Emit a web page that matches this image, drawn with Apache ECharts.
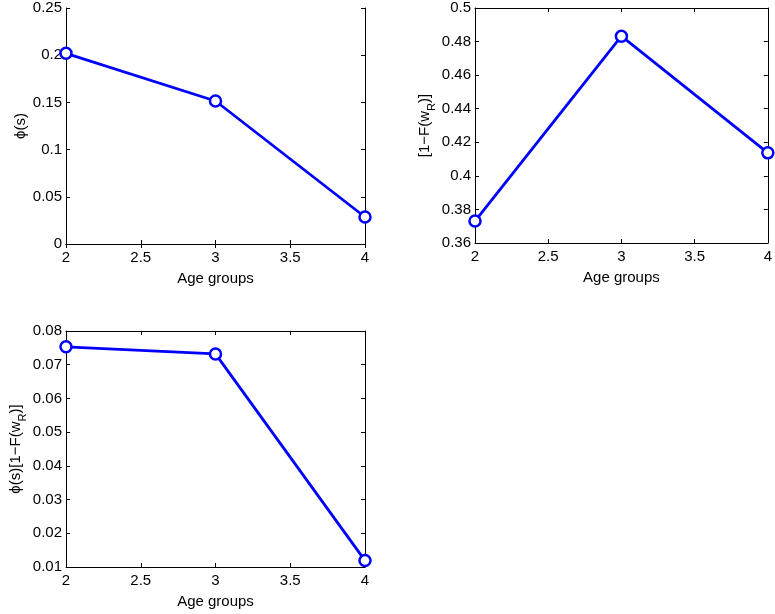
<!DOCTYPE html>
<html>
<head>
<meta charset="utf-8">
<script src="https://cdn.jsdelivr.net/npm/echarts@6/dist/echarts.min.js"></script>
<style>
  html, body { margin: 0; padding: 0; background: #fff; }
  #chart { width: 775px; height: 614px; }
</style>
</head>
<body>
<div id="chart"></div>
<script>
// age groups on the x axis
const ageGroups = [2, 3, 4];
// phi(s)
const phiValues = [0.202, 0.1515, 0.0286];
// [1 - F(w_R)]
const survivalValues = [0.3731, 0.4832, 0.4137];
// phi(s)[1 - F(w_R)]
const productValues = [0.0753, 0.0732, 0.0119];

const xTicks = [2, 2.5, 3, 3.5, 4];

const fontFamily = 'Liberation Sans, Arial, sans-serif';
const blue = '#0000ff';

const grids = [
	{ left: 66, top: 8, width: 299, height: 236 },
	{ left: 475, top: 8, width: 298, height: 235 },
	{ left: 66, top: 331, width: 299, height: 236 },
];

const yRanges = [
	{ min: 0, max: 0.25, interval: 0.05 },
	{ min: 0.36, max: 0.5, interval: 0.02 },
	{ min: 0.01, max: 0.08, interval: 0.01 },
];

const yNames = [
	'ϕ(s)',
	'[1−F(w{sub|R})]',
	'ϕ(s)[1−F(w{sub|R})]',
];

const fmt = (v) => String(parseFloat(v.toFixed(4)));

const nameRich = {
	sub: { fontSize: 11, fontFamily: fontFamily, color: '#000', verticalAlign: 'bottom', lineHeight: 24, padding: [8, 0, 0, 0] },
};

const xAxis = [];
const yAxis = [];
const series = [];

grids.forEach((g, i) => {
	// bottom axis with labels
	xAxis.push({
		type: 'value', gridIndex: i, position: 'bottom',
		min: xTicks[0], max: xTicks[xTicks.length - 1], interval: 0.5,
		name: 'Age groups', nameLocation: 'middle', nameGap: 27,
		nameTextStyle: { fontSize: 15, fontFamily: fontFamily, color: '#000' },
		axisLine: { lineStyle: { color: '#000', width: 1 } },
		axisTick: { inside: true, length: 4, lineStyle: { color: '#000' } },
		axisLabel: { fontSize: 15, fontFamily: fontFamily, color: '#000', margin: 6, formatter: fmt },
		splitLine: { show: false },
	});
	// top box edge
	xAxis.push({
		type: 'value', gridIndex: i, position: 'top',
		min: xTicks[0], max: xTicks[xTicks.length - 1], interval: 0.5,
		axisLine: { lineStyle: { color: '#000', width: 1 } },
		axisTick: { inside: true, length: 4, lineStyle: { color: '#000' } },
		axisLabel: { show: false },
		splitLine: { show: false },
	});
	const r = yRanges[i];
	yAxis.push({
		type: 'value', gridIndex: i, position: 'left',
		min: r.min, max: r.max, interval: r.interval,
		name: yNames[i], nameLocation: 'middle', nameRotate: 90, nameGap: 38,
		nameTextStyle: { fontSize: 15, fontFamily: fontFamily, color: '#000', rich: nameRich },
		axisLine: { show: true, lineStyle: { color: '#000', width: 1 } },
		axisTick: { show: true, inside: true, length: 4, lineStyle: { color: '#000' } },
		axisLabel: { fontSize: 15, fontFamily: fontFamily, color: '#000', margin: 4, formatter: fmt },
		splitLine: { show: false },
	});
	yAxis.push({
		type: 'value', gridIndex: i, position: 'right',
		min: r.min, max: r.max, interval: r.interval,
		axisLine: { show: true, lineStyle: { color: '#000', width: 1 } },
		axisTick: { show: true, inside: true, length: 4, lineStyle: { color: '#000' } },
		axisLabel: { show: false },
		splitLine: { show: false },
	});
});

const seriesData = [phiValues, survivalValues, productValues];
seriesData.forEach((vals, i) => {
	series.push({
		type: 'line',
		xAxisIndex: i * 2,
		yAxisIndex: i * 2,
		data: ageGroups.map((a, k) => [a, vals[k]]),
		symbol: 'circle',
		symbolSize: 11,
		showAllSymbol: true,
		clip: false,
		lineStyle: { color: blue, width: 2.8 },
		itemStyle: { color: '#fff', borderColor: blue, borderWidth: 2.5 },
		z: 3,
	});
});

const chart = echarts.init(document.getElementById('chart'), null, { renderer: 'canvas' });
chart.setOption({
	animation: false,
	backgroundColor: '#fff',
	grid: grids.map((g) => Object.assign({ containLabel: false }, g)),
	xAxis: xAxis,
	yAxis: yAxis,
	series: series,
});
</script>
</body>
</html>
